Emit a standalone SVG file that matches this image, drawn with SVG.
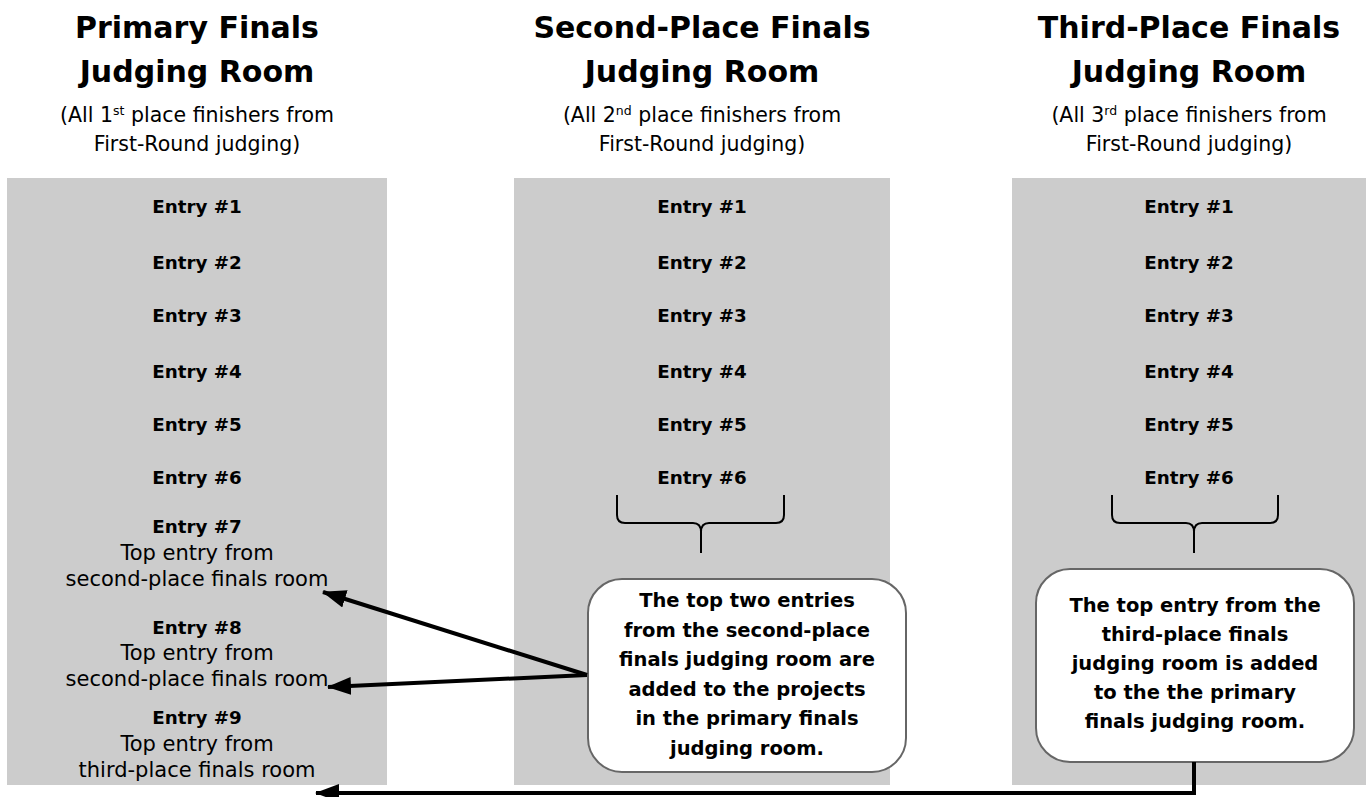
<svg xmlns="http://www.w3.org/2000/svg" width="1369" height="797" viewBox="0 0 1369 797">
<style>
text { font-family: "DejaVu Sans", "Liberation Sans", sans-serif; fill: #000; text-anchor: middle; }
.title { font-size: 30px; font-weight: bold; }
.sub { font-size: 20.5px; }
.sup { font-size: 12.5px; }
.entry { font-size: 18.3px; font-weight: bold; }
.desc { font-size: 21px; }
.call { font-size: 19.5px; font-weight: bold; }
.panel { fill: #cccccc; }
.box { fill: #ffffff; stroke: #666666; stroke-width: 2; }
.brace { fill: none; stroke: #000; stroke-width: 2; }
.conn { fill: none; stroke: #000; stroke-width: 4; marker-end: url(#arrow); }
</style>
<defs>
<marker id="arrow" markerUnits="userSpaceOnUse" markerWidth="26" markerHeight="20" refX="23" refY="9" orient="auto">
<path d="M0,0 L24,9 L0,18 z" fill="#000"/>
</marker>
</defs>
<rect width="1369" height="797" fill="#ffffff"/>

<g id="primary-room">
<rect class="panel" x="7" y="178" width="380" height="607"/>
<text class="title" x="197" y="38">Primary Finals</text>
<text class="title" x="197" y="82">Judging Room</text>
<text class="sub" x="197" y="122">(All 1<tspan class="sup" dy="-7">st</tspan><tspan dy="7"> place finishers from</tspan></text>
<text class="sub" x="197" y="151">First-Round judging)</text>
<text class="entry" x="197" y="213">Entry #1</text>
<text class="entry" x="197" y="269">Entry #2</text>
<text class="entry" x="197" y="322">Entry #3</text>
<text class="entry" x="197" y="378">Entry #4</text>
<text class="entry" x="197" y="431">Entry #5</text>
<text class="entry" x="197" y="484">Entry #6</text>
<text class="entry" x="197" y="533">Entry #7</text>
<text class="desc" x="197" y="560">Top entry from</text>
<text class="desc" x="197" y="586">second-place finals room</text>
<text class="entry" x="197" y="634">Entry #8</text>
<text class="desc" x="197" y="660">Top entry from</text>
<text class="desc" x="197" y="686">second-place finals room</text>
<text class="entry" x="197" y="724">Entry #9</text>
<text class="desc" x="197" y="751">Top entry from</text>
<text class="desc" x="197" y="777">third-place finals room</text>
</g>

<g id="second-room">
<rect class="panel" x="514" y="178" width="376" height="607"/>
<text class="title" x="702" y="38">Second-Place Finals</text>
<text class="title" x="702" y="82">Judging Room</text>
<text class="sub" x="702" y="122">(All 2<tspan class="sup" dy="-7">nd</tspan><tspan dy="7"> place finishers from</tspan></text>
<text class="sub" x="702" y="151">First-Round judging)</text>
<text class="entry" x="702" y="213">Entry #1</text>
<text class="entry" x="702" y="269">Entry #2</text>
<text class="entry" x="702" y="322">Entry #3</text>
<text class="entry" x="702" y="378">Entry #4</text>
<text class="entry" x="702" y="431">Entry #5</text>
<text class="entry" x="702" y="484">Entry #6</text>
<path class="brace" d="M617,495 L617,515 Q617,523 625,523 L693,523 Q701,523 701,532 L701,553 M701,532 Q701,523 709,523 L776,523 Q784,523 784,515 L784,495"/>
</g>

<g id="third-room">
<rect class="panel" x="1012" y="178" width="354" height="607"/>
<text class="title" x="1189" y="38">Third-Place Finals</text>
<text class="title" x="1189" y="82">Judging Room</text>
<text class="sub" x="1189" y="122">(All 3<tspan class="sup" dy="-7">rd</tspan><tspan dy="7"> place finishers from</tspan></text>
<text class="sub" x="1189" y="151">First-Round judging)</text>
<text class="entry" x="1189" y="213">Entry #1</text>
<text class="entry" x="1189" y="269">Entry #2</text>
<text class="entry" x="1189" y="322">Entry #3</text>
<text class="entry" x="1189" y="378">Entry #4</text>
<text class="entry" x="1189" y="431">Entry #5</text>
<text class="entry" x="1189" y="484">Entry #6</text>
<path class="brace" d="M1112,495 L1112,515 Q1112,523 1120,523 L1186,523 Q1194,523 1194,532 L1194,553 M1194,532 Q1194,523 1202,523 L1270,523 Q1278,523 1278,515 L1278,495"/>
</g>

<g id="second-callout">
<rect class="box" x="588" y="579" width="318" height="193" rx="34" ry="34"/>
<text class="call" x="747" y="607">The top two entries</text>
<text class="call" x="747" y="637">from the second-place</text>
<text class="call" x="747" y="666">finals judging room are</text>
<text class="call" x="747" y="696">added to the projects</text>
<text class="call" x="747" y="725">in the primary finals</text>
<text class="call" x="747" y="755">judging room.</text>
</g>

<g id="third-callout">
<rect class="box" x="1036" y="569" width="318" height="193" rx="34" ry="34"/>
<text class="call" x="1195" y="612">The top entry from the</text>
<text class="call" x="1195" y="641">third-place finals</text>
<text class="call" x="1195" y="670">judging room is added</text>
<text class="call" x="1195" y="699">to the the primary</text>
<text class="call" x="1195" y="728">finals judging room.</text>
</g>

<g id="connectors">
<path class="conn" d="M587,675 L323,592"/>
<path class="conn" d="M587,675 L328,687"/>
<path class="conn" d="M1194,762 L1194,793 L316,793"/>
</g>
</svg>
